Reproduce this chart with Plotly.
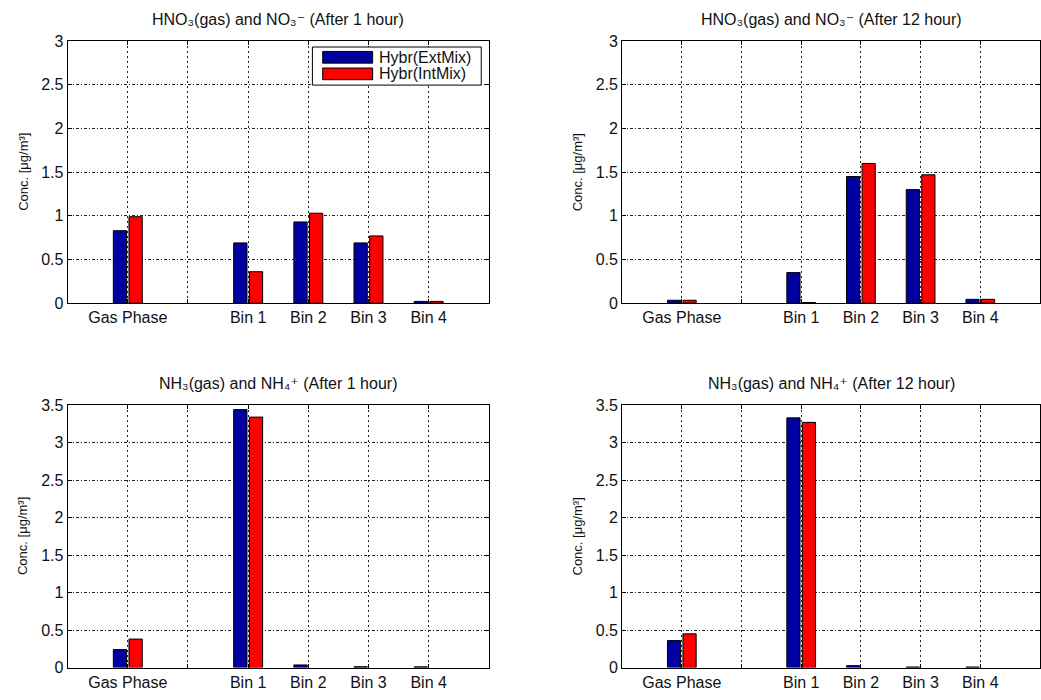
import plotly.graph_objects as go

W, H = 1041, 700

# Bar group labels; an unlabeled grid slot sits between gas phase and the bins
groups = ["Gas Phase", "Bin 1", "Bin 2", "Bin 3", "Bin 4"]
group_pos = [1, 3, 4, 5, 6]
spacer_pos = [2]
series_names = ["Hybr(ExtMix)", "Hybr(IntMix)"]

# Concentrations [ug/m3]
hno3_1h_ext = [0.83, 0.69, 0.93, 0.69, 0.02]
hno3_1h_int = [0.99, 0.36, 1.03, 0.77, 0.02]
hno3_12h_ext = [0.033, 0.35, 1.45, 1.30, 0.044]
hno3_12h_int = [0.033, 0.007, 1.60, 1.47, 0.044]
nh3_1h_ext = [0.24, 3.44, 0.035, 0.012, 0.01]
nh3_1h_int = [0.38, 3.34, 0.0, 0.0, 0.0]
nh3_12h_ext = [0.36, 3.33, 0.026, 0.008, 0.008]
nh3_12h_int = [0.45, 3.27, 0.0, 0.0, 0.0]

BLUE = "#0000A0"
RED = "#FF0000"
FONT = "Liberation Sans, Arial, Helvetica, DejaVu Sans, sans-serif"
TXT = "#111111"
GRID = "#222222"


def px(x):
    return x / W


def py(y):
    return 1 - y / H


left_dom = [px(67.7), px(489.3)]
right_dom = [px(622.7), 1.0]
top_dom = [py(302.5), py(34)]
bot_dom = [py(676), py(407)]

panels = [
    ("HNO₃(gas) and NO₃⁻ (After 1 hour)",
     hno3_1h_ext, hno3_1h_int, 3.0, "", left_dom, top_dom),
    ("HNO₃(gas) and NO₃⁻ (After 12 hour)",
     hno3_12h_ext, hno3_12h_int, 3.0, "2", right_dom, top_dom),
    ("NH₃(gas) and NH₄⁺ (After 1 hour)",
     nh3_1h_ext, nh3_1h_int, 3.5, "3", left_dom, bot_dom),
    ("NH₃(gas) and NH₄⁺ (After 12 hour)",
     nh3_12h_ext, nh3_12h_int, 3.5, "4", right_dom, bot_dom),
]

fig = go.Figure()
annotations = []
layout_axes = {}

for title, ext, intm, ymax, sfx, xdom, ydom in panels:
    xa, ya = "x" + sfx, "y" + sfx
    for name, vals, col in ((series_names[0], ext, BLUE), (series_names[1], intm, RED)):
        # empty bars get no outline
        edge = [1 if v > 0 else 0 for v in vals]
        fig.add_trace(go.Bar(
            x=group_pos, y=vals, name=name, xaxis=xa, yaxis=ya,
            marker=dict(color=col, line=dict(color="black", width=edge)),
            showlegend=False,
        ))
    layout_axes["xaxis" + sfx] = dict(
        domain=xdom, anchor=ya, range=[0, 7],
        tickmode="array", tickvals=group_pos, ticktext=groups,
        showgrid=True, gridcolor=GRID, gridwidth=1, griddash="2px,3px",
        minor=dict(tickmode="array", tickvals=spacer_pos, showgrid=True,
                   gridcolor=GRID, gridwidth=1, griddash="2px,3px",
                   ticks="inside", ticklen=4, tickcolor="black"),
        showline=True, linecolor="black", linewidth=1, mirror="ticks",
        ticks="inside", ticklen=4, tickcolor="black", zeroline=False,
        tickfont=dict(family=FONT, size=16, color=TXT), fixedrange=True,
    )
    layout_axes["yaxis" + sfx] = dict(
        domain=ydom, anchor=xa, range=[0, ymax], dtick=0.5, tick0=0,
        showgrid=True, gridcolor=GRID, gridwidth=1,
        griddash="3px,2px,1px,2px",
        showline=True, linecolor="black", linewidth=1, mirror="ticks",
        ticks="inside", ticklen=4, tickcolor="black", zeroline=False,
        tickfont=dict(family=FONT, size=16, color=TXT), fixedrange=True,
    )
    if xdom is right_dom:
        xc = (px(622.7) + px(1041.3)) / 2
    else:
        xc = (xdom[0] + xdom[1]) / 2
    # panel title
    annotations.append(dict(
        text=title, xref="paper", yref="paper", x=xc, y=ydom[1] + 22 / H,
        xanchor="center", yanchor="middle", showarrow=False,
        font=dict(family=FONT, size=16, color=TXT),
    ))
    # y axis title
    annotations.append(dict(
        text="Conc. [μg/m³]", xref="paper", yref="paper",
        x=xdom[0] - 45 / W, y=(ydom[0] + ydom[1]) / 2,
        xanchor="center", yanchor="middle", textangle=-90, showarrow=False,
        font=dict(family=FONT, size=13, color=TXT),
    ))

# legend box inside the first panel
shapes = [
    dict(type="rect", xref="paper", yref="paper",
         x0=px(312.7), x1=px(481.7), y0=py(79), y1=py(40),
         line=dict(color="black", width=1), fillcolor="white", layer="above"),
    dict(type="rect", xref="paper", yref="paper",
         x0=px(323), x1=px(373), y0=py(56.5), y1=py(44.5),
         line=dict(color="black", width=1), fillcolor=BLUE, layer="above"),
    dict(type="rect", xref="paper", yref="paper",
         x0=px(323), x1=px(373), y0=py(73.5), y1=py(61.5),
         line=dict(color="black", width=1), fillcolor=RED, layer="above"),
]
for name, yc in ((series_names[0], 50.5), (series_names[1], 67.5)):
    annotations.append(dict(
        text=name, xref="paper", yref="paper", x=px(377), y=py(yc),
        xanchor="left", yanchor="middle", showarrow=False,
        font=dict(family=FONT, size=16, color=TXT),
    ))

fig.update_layout(
    width=W, height=H, margin=dict(l=0, r=0, t=0, b=0),
    paper_bgcolor="white", plot_bgcolor="white",
    barmode="group", bargap=0.48, bargroupgap=0.15,
    annotations=annotations, shapes=shapes, showlegend=False,
    **layout_axes,
)

fig.write_html("out.html")
